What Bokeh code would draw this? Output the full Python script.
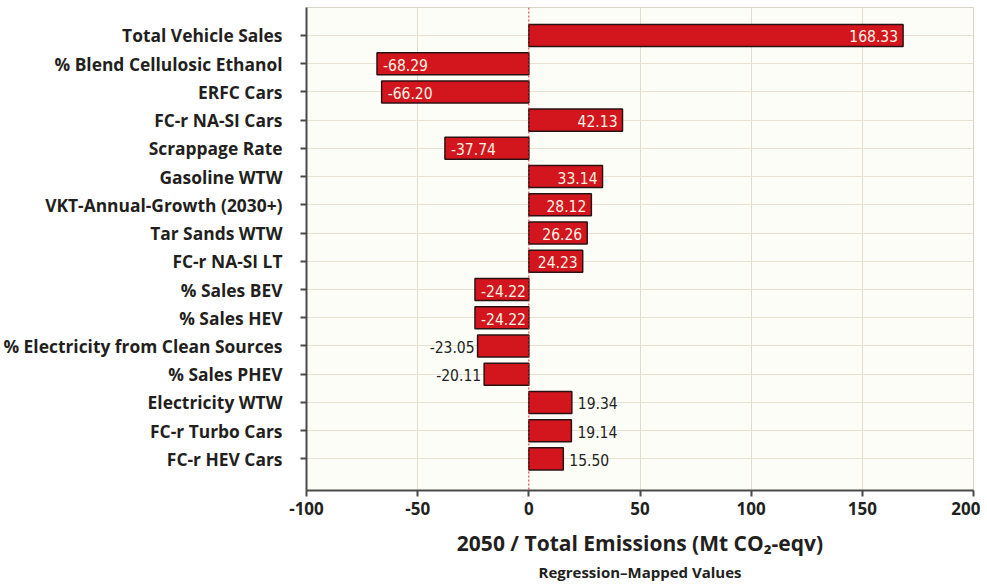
from bokeh.plotting import figure
from bokeh.models import ColumnDataSource, Range1d, FixedTicker, Span, Title
from bokeh.embed import file_html
from bokeh.resources import INLINE

categories = ["Total Vehicle Sales", "% Blend Cellulosic Ethanol", "ERFC Cars",
              "FC-r NA-SI Cars", "Scrappage Rate", "Gasoline WTW",
              "VKT-Annual-Growth (2030+)", "Tar Sands WTW", "FC-r NA-SI LT",
              "% Sales BEV", "% Sales HEV", "% Electricity from Clean Sources",
              "% Sales PHEV", "Electricity WTW", "FC-r Turbo Cars", "FC-r HEV Cars"]
values = [168.33, -68.29, -66.20, 42.13, -37.74, 33.14, 28.12, 26.26, 24.23,
          -24.22, -24.22, -23.05, -20.11, 19.34, 19.14, 15.50]
x_ticks = [-100, -50, 0, 50, 100, 150, 200]

LABEL_FONT = "Open Sans"
idx = list(range(len(categories)))

inside = [abs(v) >= 24 for v in values]
align, xoff, tcol = [], [], []
for v, ins in zip(values, inside):
    if v >= 0:
        align.append("right" if ins else "left")
        xoff.append(-5 if ins else 6)
    else:
        align.append("left" if ins else "right")
        xoff.append(6 if ins else -3)
    tcol.append("#fbf3e4" if ins else "#222222")

src = ColumnDataSource(dict(y=idx, v=values, txt=["%.2f" % v for v in values],
                            align=align, xoff=xoff, tcol=tcol))

p = figure(width=980, height=584, output_backend="svg", toolbar_location=None,
           x_range=Range1d(-100, 200), y_range=Range1d(16.12, -0.99),
           min_border_left=305, min_border_right=7, min_border_top=7, min_border_bottom=94)

p.background_fill_color = "#fdfdf8"
p.border_fill_color = "white"
p.outline_line_color = "#d9d4c8"

p.hbar(y="y", left=0, right="v", height=0.78, source=src,
       fill_color="#d3161e", line_color="#2b1212", line_width=1.5)

p.add_layout(Span(location=0, dimension="height", line_color="#e8202a",
                  line_dash="2 2", line_width=1))

p.text(x="v", y="y", text="txt", source=src, text_align="align", x_offset="xoff",
       text_color="tcol", text_baseline="middle", y_offset=1,
       text_font_size="15.5px", text_font={"value": "DejaVu Sans Condensed"})

p.yaxis.ticker = FixedTicker(ticks=idx)
p.yaxis.major_label_overrides = {i: c for i, c in zip(idx, categories)}
p.xaxis.ticker = FixedTicker(ticks=x_ticks)
p.xaxis.major_label_overrides = {t: str(t) for t in x_ticks}

for ax in (p.xaxis[0], p.yaxis[0]):
    ax.axis_line_color = "#4a4a4a"
    ax.axis_line_width = 2
    ax.major_tick_line_color = "#4a4a4a"
    ax.major_tick_line_width = 2
    ax.major_tick_out = 6
    ax.major_tick_in = 0
    ax.minor_tick_line_color = None
    ax.major_label_text_font = LABEL_FONT
    ax.major_label_text_font_style = "bold"
    ax.major_label_text_color = "#231f20"

p.yaxis.major_label_text_font_size = "17.4px"
p.xaxis.major_label_text_font_size = "17px"
p.yaxis.major_label_standoff = 18
p.xaxis.major_label_standoff = 5

p.xaxis.axis_label = "2050 / Total Emissions (Mt CO\u2082-eqv)"
p.xaxis.axis_label_text_font = LABEL_FONT
p.xaxis.axis_label_text_font_style = "bold"
p.xaxis.axis_label_text_font_size = "21px"
p.xaxis.axis_label_text_color = "#231f20"
p.xaxis.axis_label_standoff = 11

p.xgrid.ticker = FixedTicker(ticks=[-50, 50, 100, 150])
p.xgrid.grid_line_color = "#e2dccd"
p.ygrid.grid_line_color = "#e8e2d2"

sub = Title(text="Regression\u2013Mapped Values", align="center", text_font=LABEL_FONT,
            text_font_style="bold", text_font_size="15px", text_color="#231f20",
            standoff=1)
p.add_layout(sub, "below")

open("out.html", "w").write(file_html(p, INLINE))
